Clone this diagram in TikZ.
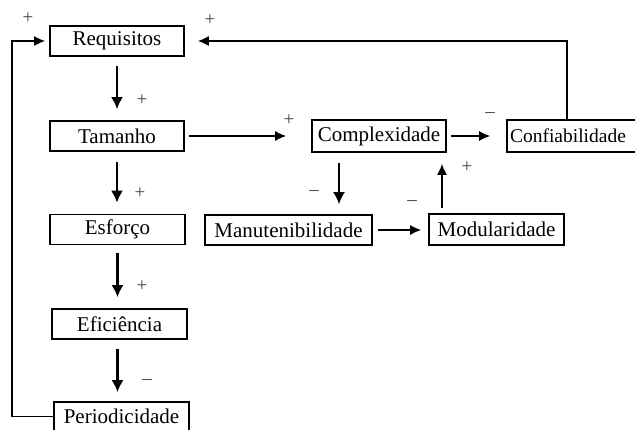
\documentclass[tikz,border=0pt]{standalone}
\usepackage{fontspec}
\setmainfont{Liberation Serif}
\usetikzlibrary{arrows.meta}
\begin{document}
\begin{tikzpicture}[x=1pt,y=-1pt,
  box/.style={draw,line width=1.6pt,minimum height=30pt,inner sep=0pt,font=\fontsize{21}{24}\selectfont},
  arr/.style={line width=1.4pt,-{Latex[length=11pt,width=10pt]}},
  varr/.style={line width=2.2pt,-{Latex[length=12pt,width=12pt]}},
  sgn/.style={font=\fontsize{19}{20}\selectfont,text=black!75,inner sep=0pt}]
\useasboundingbox (0,0) rectangle (635,430);
% nodes
\node[box,minimum width=134pt] (req) at (117,41) {Requisitos};
\node[box,minimum width=134pt] (tam) at (117,136) {Tamanho};
\node[box,minimum width=135pt] (esf) at (117.5,229.5) {Esforço};
\node[box,minimum width=135pt] (efi) at (119.5,324) {Eficiência};
\node[box,minimum width=135pt,minimum height=29pt] (per) at (121.5,416.5) {Periodicidade};
\node[box,minimum width=134pt,minimum height=32pt] (com) at (379,136) {Complexidade};
\node[box,minimum width=140pt,minimum height=32pt,text width=134pt,align=left,font=\fontsize{19.5}{22}\selectfont] (con) at (577,136) {Confiabilidade};
\node[box,minimum width=167pt] (man) at (288.5,230) {Manutenibilidade};
\node[box,minimum width=135pt,minimum height=31pt] (mod) at (496.5,229.5) {Modularidade};
% corner coordinates
\coordinate (L) at (12,416.5);
\coordinate (T) at (567,41);
% left vertical chain
\draw[varr,shorten <=9pt,shorten >=11pt] (req.south) -- (tam.north);
\draw[varr,shorten <=10pt,shorten >=11pt] (tam.south) -- (tam.south |- esf.north);
\draw[varr,shorten <=8pt,shorten >=11pt] (esf.south) -- (esf.south |- efi.north);
\draw[varr,shorten <=9pt,shorten >=9pt] (efi.south -| esf.south) -- (esf.south |- per.north);
% feedback loops
\draw[arr,line width=1.6pt,shorten >=4pt] (per.west) -- (L) |- (req.west);
\draw[arr,line width=1.6pt,shorten >=13pt] (con.north -| T) -- (T) -- (req.east);
% right part
\draw[arr,shorten <=4pt,shorten >=25pt] (tam.east) -- (com.west);
\draw[arr,shorten <=4pt,shorten >=16pt] (com.east) -- (con.west);
\draw[varr,line width=2pt,shorten <=10pt,shorten >=10pt] ([xshift=-40pt]com.south) -- ([xshift=-40pt]com.south |- man.north);
\draw[arr,shorten <=5pt,shorten >=7pt] (man.east) -- (mod.west |- man.east);
\draw[arr,line width=1.6pt,shorten <=6pt,shorten >=11pt] (442,214) coordinate (M1) -- (M1 |- com.south);
% signs
\node[sgn] (s1) at (28,18) {+};
\node[sgn] (s2) at (210,20) {+};
\node[sgn] (s3) at (142,100) {+};
\node[sgn] (s4) at (289,120) {+};
\node[sgn] (s5) at (140,193) {+};
\node[sgn] (s6) at (314,193) {–};
\node[sgn] (s7) at (490,115) {–};
\node[sgn] (s8) at (467,167) {+};
\node[sgn] (s9) at (412,203) {–};
\node[sgn] (s10) at (142,286) {+};
\node[sgn] (s11) at (147,382) {–};
\end{tikzpicture}
\end{document}
